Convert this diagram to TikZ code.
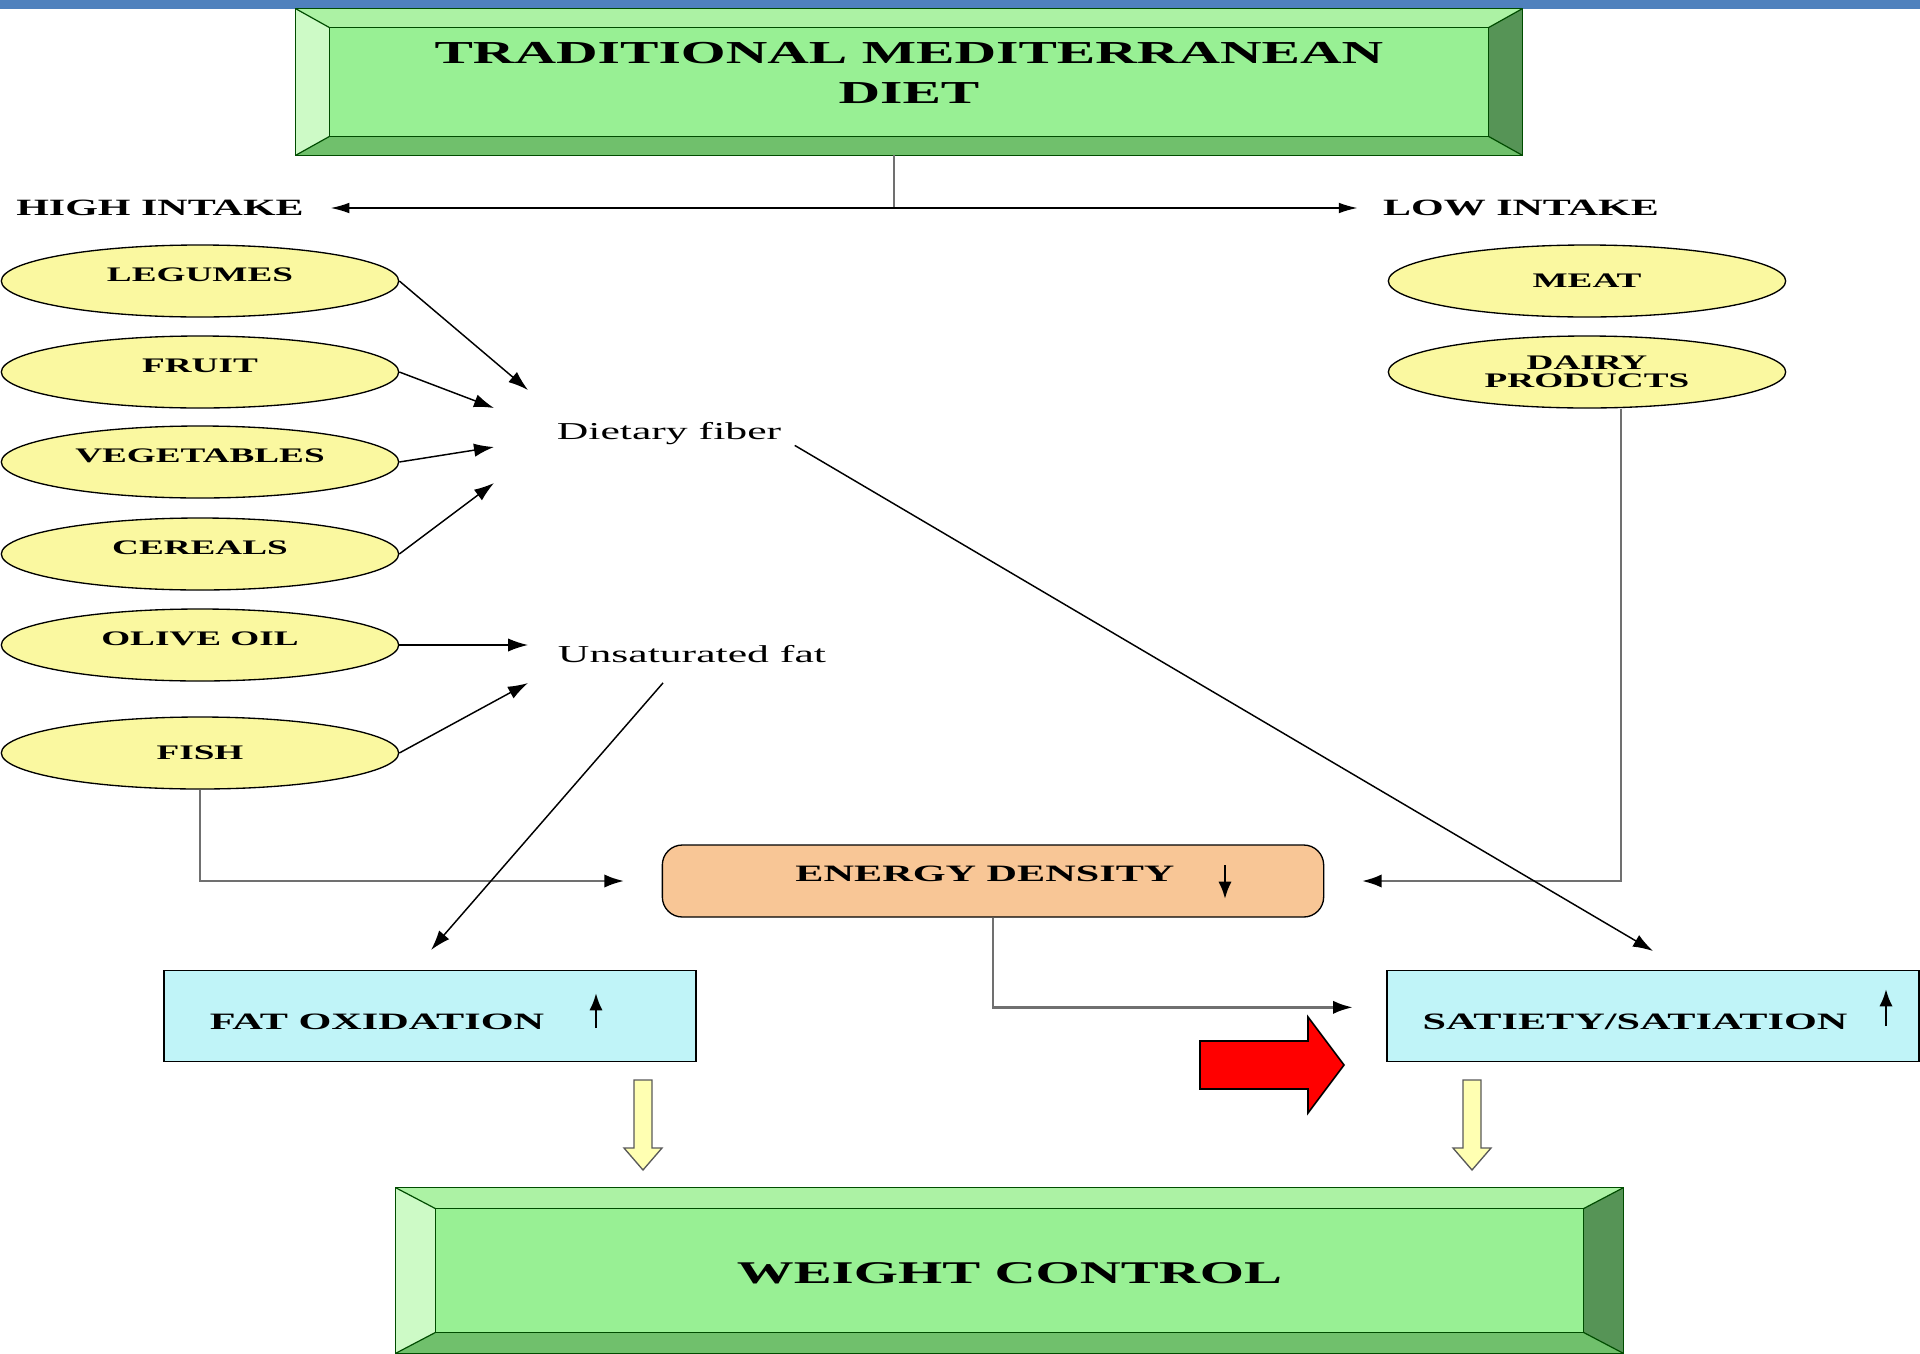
\documentclass[tikz,border=0pt]{standalone}
\usepackage{graphicx}
\usepackage{fontspec}
\setmainfont{Liberation Serif}
\usetikzlibrary{shapes.geometric,arrows.meta,calc}

\definecolor{barblue}{RGB}{79,129,189}
\definecolor{facegreen}{RGB}{152,240,148}
\definecolor{topgreen}{RGB}{172,242,164}
\definecolor{leftgreen}{RGB}{205,250,198}
\definecolor{botgreen}{RGB}{112,192,108}
\definecolor{rightgreen}{RGB}{86,148,86}
\definecolor{foodyellow}{RGB}{250,248,160}
\definecolor{peach}{RGB}{248,198,150}
\definecolor{paleblue}{RGB}{192,244,248}
\definecolor{paleyellow}{RGB}{255,255,178}
\definecolor{linegray}{RGB}{112,112,112}

% the scanned labels are drawn wide
\newcommand{\stretchtxt}[1]{\scalebox{1.8}[1]{#1}}

% bevelled green panel round an empty node
\newcommand{\bevelbox}[3]{%
  \fill[topgreen] (#1.north west) -- (#1.north east) -- ($(#1.north east)+(-#2,#3)$) -- ($(#1.north west)+(#2,#3)$) -- cycle;
  \fill[botgreen] (#1.south west) -- (#1.south east) -- ($(#1.south east)+(-#2,-#3)$) -- ($(#1.south west)+(#2,-#3)$) -- cycle;
  \fill[leftgreen] (#1.north west) -- ($(#1.north west)+(#2,#3)$) -- ($(#1.south west)+(#2,-#3)$) -- (#1.south west) -- cycle;
  \fill[rightgreen] (#1.north east) -- ($(#1.north east)+(-#2,#3)$) -- ($(#1.south east)+(-#2,-#3)$) -- (#1.south east) -- cycle;
  \draw[bevline, fill=facegreen] ($(#1.north west)+(#2,#3)$) rectangle ($(#1.south east)+(-#2,-#3)$);
  \draw[bevline] (#1.north west) rectangle (#1.south east);
  \draw[bevline] (#1.north west) -- ++(#2,#3) (#1.north east) -- ++(-#2,#3)
                 (#1.south west) -- ++(#2,-#3) (#1.south east) -- ++(-#2,-#3);
}

\tikzset{
  bevline/.style={draw=black!70!green, line width=0.9pt},
  food/.style={ellipse, draw, line width=1pt, fill=foodyellow, minimum width=298pt, minimum height=54pt, inner sep=0pt, font=\fontsize{15.5pt}{13.5pt}\selectfont\bfseries},
  foodtxt/.style={text height=0pt, text depth=0pt},
  effect/.style={draw, line width=1pt, fill=paleblue, minimum width=399pt, minimum height=68pt, inner sep=0pt},
  lbl/.style={inner sep=0pt, font=\fontsize{17.6pt}{20pt}\selectfont\bfseries},
  intake/.style={inner sep=0pt, font=\fontsize{17.5pt}{20pt}\selectfont\bfseries},
  midtxt/.style={inner sep=0pt, font=\fontsize{18.2pt}{20pt}\selectfont},
  arr/.style={-{Latex[length=15pt,width=10pt]}, line width=1.1pt},
  thinarr/.style={-{Latex[length=14pt,width=8pt]}, line width=1.1pt},
  garr/.style={-{Latex[length=15pt,width=10pt,color=black]}, draw=linegray, line width=2.2pt},
  smallarr/.style={-{Latex[length=13pt,width=10pt]}, line width=2pt},
}

\begin{document}
\begin{tikzpicture}[x=0.75pt,y=0.75pt,yscale=-1,xscale=1]
\useasboundingbox (0,0) rectangle (1920,1353);
\fill[barblue] (0,0) rectangle (1920,8.5);

% title panel
\node (dietbox) [minimum width=919.5pt, minimum height=109.5pt, inner sep=0pt] at (909,82) {};
\bevelbox{dietbox}{34}{19}
\node (diet) [align=center, inner sep=0pt, font=\fontsize{24pt}{30pt}\selectfont\bfseries] at (909,73) {\stretchtxt{TRADITIONAL MEDITERRANEAN}\\\stretchtxt{DIET}};

\coordinate (split) at (894,208);
\node (high) [intake] at (160,208) {\stretchtxt{HIGH INTAKE}};
\node (low) [intake] at (1521,208) {\stretchtxt{LOW INTAKE}};
\draw[draw=linegray, line width=2pt] ($(dietbox.south)+(-15,0)$) -- (split);
\draw[thinarr, shorten >=20pt] (split) -- (high.east);
\draw[thinarr, shorten >=19pt] (split) -- (low.west);

% foods
\node (legumes) [food, foodtxt] at (200,281) {\stretchtxt{LEGUMES}};
\node (fruit) [food, foodtxt] at (200,372) {\stretchtxt{FRUIT}};
\node (veg) [food, foodtxt] at (200,462) {\stretchtxt{VEGETABLES}};
\node (cereals) [food, foodtxt] at (200,554) {\stretchtxt{CEREALS}};
\node (olive) [food, foodtxt] at (200,645) {\stretchtxt{OLIVE OIL}};
\node (fish) [food] at (200,753) {\stretchtxt{FISH}};
\node (meat) [food] at (1587,281) {\stretchtxt{MEAT}};
\node (dairy) [food, align=center] at (1587,372) {\stretchtxt{DAIRY}\\\stretchtxt{PRODUCTS}};

\node (fiber) [midtxt] at (669,434) {\stretchtxt{Dietary fiber}};
\node (unsat) [midtxt] at (692,654) {\stretchtxt{Unsaturated fat}};

\coordinate (fibA) at (528,390);
\coordinate (fibB) at (494,408);
\coordinate (fibC) at (494,447);
\coordinate (fibD) at (494,483);
\coordinate (fatA) at (528,645);
\coordinate (fatB) at (528,683);
\draw[arr] (legumes.east) -- (fibA);
\draw[arr] (fruit.east) -- (fibB);
\draw[arr] (veg.east) -- (fibC);
\draw[arr] (cereals.east) -- (fibD);
\draw[arr] (olive.east) -- (fatA);
\draw[arr] (fish.east) -- (fatB);

% effects
\node (energy) [draw, line width=1pt, rounded corners=15pt, fill=peach, minimum width=496pt, minimum height=54pt, inner sep=0pt] at (993,881) {};
\node (energylbl) [lbl] at (985,874) {\stretchtxt{ENERGY DENSITY}};
\draw[smallarr] ($(energy.center)+(232,-16)$) -- ($(energy.center)+(232,18)$);

\node (fatox) [effect] at (430,1016) {};
\node (fatoxlbl) [lbl] at (377,1022) {\stretchtxt{FAT OXIDATION}};
\draw[smallarr] ($(fatox.center)+(166,12)$) -- ($(fatox.center)+(166,-23)$);

\node (satiety) [effect] at (1653,1016) {};
\node (satietylbl) [lbl] at (1635,1022) {\stretchtxt{SATIETY/SATIATION}};
\draw[smallarr] ($(satiety.center)+(233,10)$) -- ($(satiety.center)+(233,-27)$);

\draw[garr, shorten >=28pt] (fish.south) |- (energy.west);
\draw[garr, shorten >=28pt] ($(dairy.south)+(34,0)$) |- (energy.east);
\draw[garr, shorten >=25pt] (energy.south) |- ([yshift=-6.5pt]satiety.west);
\draw[arr] ([xshift=10pt]fiber.south east) -- ($(satiety.north)+(0,-19)$);
\draw[arr] ($(unsat.south)+(-29,20)$) -- ($(fatox.north)+(1,-20)$);

% red pointer
\draw[line width=1.2pt, fill=red] (1200,1041) -- (1308,1041) -- (1308,1017) -- (1344,1065) -- (1308,1113) -- (1308,1089) -- (1200,1089) -- cycle;

% hollow arrows
\foreach \x in {643,1472}
  \draw[draw=black!65, line width=1pt, fill=paleyellow] (\x-9,1080) -- (\x+9,1080) -- (\x+9,1148) -- (\x+19,1148) -- (\x,1170) -- (\x-19,1148) -- (\x-9,1148) -- cycle;

% result panel
\node (weightbox) [minimum width=920.25pt, minimum height=123.75pt, inner sep=0pt] at (1009.5,1270.5) {};
\bevelbox{weightbox}{40}{21}
\node (weight) [inner sep=0pt, font=\fontsize{23.7pt}{28pt}\selectfont\bfseries] at (1009.5,1273) {\stretchtxt{WEIGHT CONTROL}};
\end{tikzpicture}
\end{document}
